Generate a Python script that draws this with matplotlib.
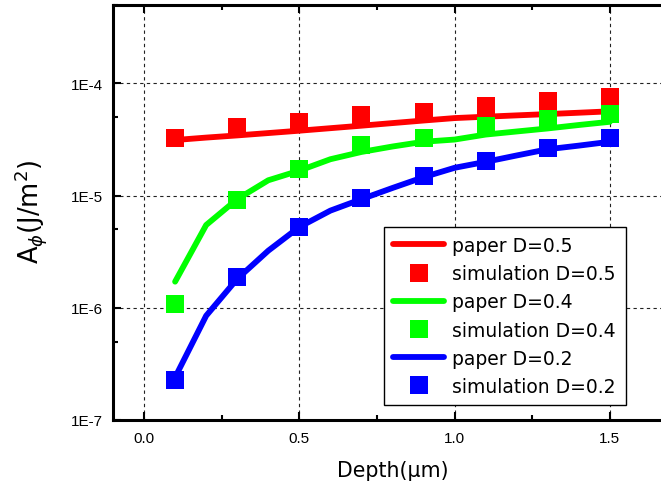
import numpy as np
import matplotlib
matplotlib.use("Agg")
import matplotlib.pyplot as plt
from matplotlib.ticker import LogLocator, FuncFormatter, MultipleLocator, NullFormatter

plt.rcParams['font.family'] = ['Liberation Sans', 'DejaVu Sans']
plt.rcParams['mathtext.fontset'] = 'dejavusans'

# Depth positions (um)
depth_line = [0.1, 0.2, 0.3, 0.4, 0.5, 0.6, 0.7, 0.8, 0.9, 1.0, 1.1, 1.2, 1.3, 1.4, 1.5]
depth_sim = [0.1, 0.3, 0.5, 0.7, 0.9, 1.1, 1.3, 1.5]

# Published curves (J/m^2)
paper_d05 = [3.13e-5, 3.29e-5, 3.44e-5, 3.61e-5, 3.79e-5, 3.99e-5, 4.20e-5, 4.43e-5,
             4.67e-5, 4.91e-5, 5.05e-5, 5.19e-5, 5.33e-5, 5.48e-5, 5.64e-5]
paper_d04 = [1.71e-6, 5.47e-6, 9.3e-6, 1.37e-5, 1.67e-5, 2.11e-5, 2.45e-5, 2.74e-5,
             3.02e-5, 3.16e-5, 3.5e-5, 3.73e-5, 3.97e-5, 4.26e-5, 4.55e-5]
paper_d02 = [2.4e-7, 8.5e-7, 1.81e-6, 3.23e-6, 5.25e-6, 7.35e-6, 9.3e-6, 1.17e-5,
             1.46e-5, 1.77e-5, 2.0e-5, 2.28e-5, 2.59e-5, 2.79e-5, 3.02e-5]

# Simulated values (J/m^2)
sim_d05 = [3.23e-5, 4.05e-5, 4.49e-5, 5.28e-5, 5.58e-5, 6.33e-5, 6.95e-5, 7.5e-5]
sim_d04 = [1.09e-6, 9.15e-6, 1.74e-5, 2.81e-5, 3.23e-5, 4.16e-5, 4.80e-5, 5.39e-5]
sim_d02 = [2.29e-7, 1.87e-6, 5.23e-6, 9.48e-6, 1.49e-5, 2.02e-5, 2.68e-5, 3.23e-5]

series = [
    ("0.5", paper_d05, sim_d05, "#ff0000"),
    ("0.4", paper_d04, sim_d04, "#00ff00"),
    ("0.2", paper_d02, sim_d02, "#0000ff"),
]

LABEL_FONT = ['DejaVu Sans']

W, H = 661, 489
fig = plt.figure(figsize=(W / 100, H / 100), dpi=100)
left, right, top, bottom = 113, 672, 6, 421
ax = fig.add_axes([left / W, (H - bottom) / H, (right - left) / W, (bottom - top) / H])

handles = []
for d, paper, sim, color in series:
    ln, = ax.plot(depth_line, paper, color=color, lw=4.2, solid_capstyle='round',
                  solid_joinstyle='round', label=f"paper D={d}", zorder=3)
    mk, = ax.plot(depth_sim, sim, linestyle='none', marker='s', markersize=12.7,
                  markeredgewidth=0, color=color, label=f"simulation D={d}", zorder=4)
    handles += [ln, mk]

ax.set_yscale('log')
ax.set_xlim(-0.1, 1.7)
ax.set_ylim(1e-7, 5e-4)

ax.xaxis.set_major_locator(MultipleLocator(0.5))
ax.xaxis.set_minor_locator(MultipleLocator(0.25))
ax.xaxis.set_major_formatter(FuncFormatter(lambda v, p: f"{v:.1f}"))
ax.yaxis.set_major_locator(LogLocator(base=10, subs=[1.0]))
ax.yaxis.set_minor_locator(LogLocator(base=10, subs=[5.0]))
ax.yaxis.set_major_formatter(FuncFormatter(lambda v, p: f"1E{int(round(np.log10(v)))}"))
ax.yaxis.set_minor_formatter(NullFormatter())

ax.tick_params(which='both', direction='in', top=True, right=True, width=1.5, colors='k')
ax.tick_params(which='major', length=5.5)
ax.tick_params(which='minor', length=3.5)
ax.tick_params(axis='x', which='major', labelsize=11, pad=8)
ax.tick_params(axis='y', which='major', labelsize=11, pad=7)

for s in ax.spines.values():
    s.set_linewidth(2.2)

ax.grid(True, which='major', color='#222222', lw=0.8, linestyle=(0, (3, 3)))
ax.set_axisbelow(True)

ax.set_xlabel("Depth(\u03bcm)", fontsize=14.8, family=LABEL_FONT, labelpad=11)
ax.set_ylabel(r"A$_{\phi}$(J/m$^{2}$)", fontsize=18.5, family=LABEL_FONT)
ax.yaxis.set_label_coords(-0.115, 0.505)

leg = ax.legend(handles=handles, loc='lower right',
                bbox_to_anchor=(625.5 / W, (H - 406.3) / H), bbox_transform=fig.transFigure,
                borderaxespad=0, prop={'family': LABEL_FONT, 'size': 13.5},
                frameon=True, fancybox=False, edgecolor='k', framealpha=1,
                handlelength=2.75, handletextpad=0.43, labelspacing=0.49, borderpad=0.5)
leg.get_frame().set_linewidth(1.0)

fig.savefig("out.png", dpi=100)
